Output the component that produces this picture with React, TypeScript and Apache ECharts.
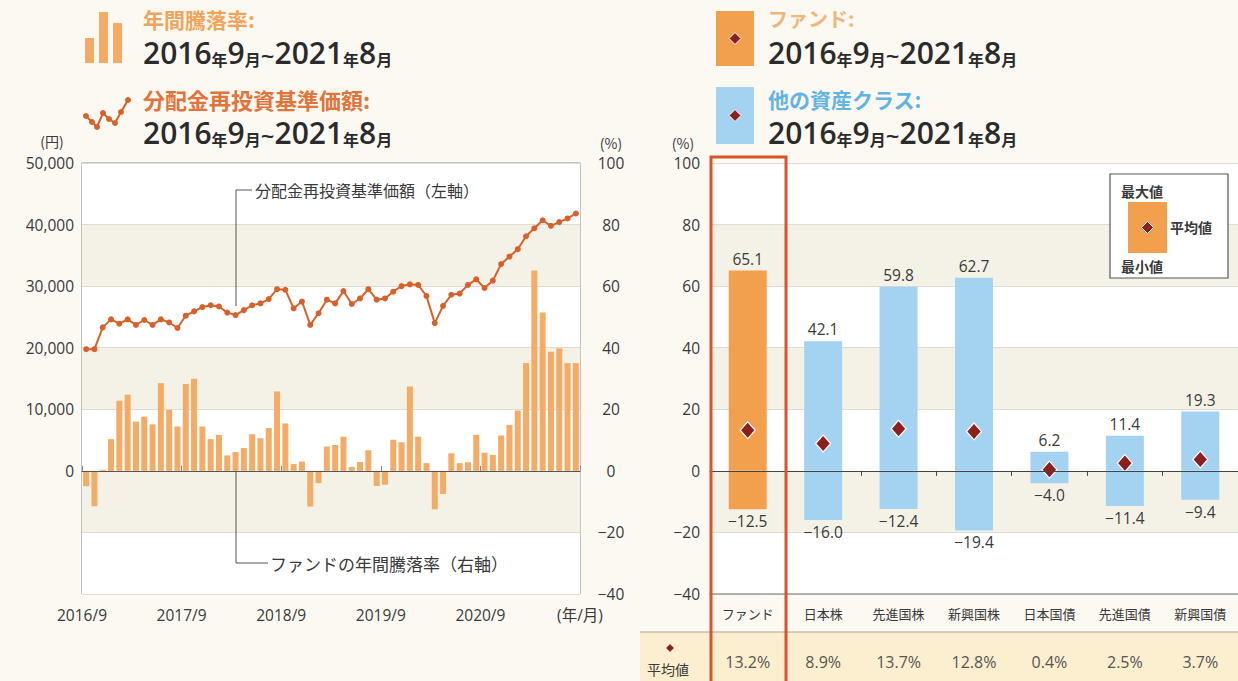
import React, { useEffect, useRef } from 'react';
import * as echarts from 'echarts';

// ---------- data ----------
const months: string[] = (() => {
  const a: string[] = [];
  for (let i = 0; i < 60; i++) {
    const m = ((8 + i) % 12) + 1;
    const y = 2016 + Math.floor((8 + i) / 12);
    a.push(`${y}/${m}`);
  }
  return a;
})();

// fund annual return (%), right axis
const annualReturns = [
  -5.0, -11.5, 0.3, 10.3, 22.8, 24.7, 16.0, 17.6, 15.1, 28.5, 19.8, 14.4,
  28.2, 29.9, 14.4, 10.3, 11.7, 5.0, 6.1, 7.4, 11.9, 10.6, 13.9, 25.8,
  15.4, 2.2, 3.0, -11.6, -4.0, 7.9, 8.4, 11.1, 1.3, 2.9, 6.7, -4.9,
  -4.5, 10.1, 9.3, 27.4, 11.1, 2.5, -12.5, -7.5, 5.7, 2.5, 2.8, 11.7,
  5.9, 5.2, 11.5, 14.9, 19.6, 35.0, 65.1, 51.4, 38.7, 39.8, 35.0, 35.0,
];

// NAV with dividends reinvested (yen), left axis
const navValues = [
  19760, 19760, 23300, 24600, 23900, 24600, 23700, 24500, 23700, 24600, 24100, 23200,
  25200, 25900, 26600, 26900, 26700, 25700, 25300, 26100, 26900, 27200, 27900, 29500,
  29400, 26400, 27500, 23700, 25600, 27800, 27200, 29200, 27100, 28000, 29500, 27800,
  28000, 29100, 30000, 30300, 30200, 28400, 24000, 26800, 28600, 28800, 30200, 31100,
  29700, 30900, 33600, 34800, 36000, 38100, 39400, 40700, 39800, 40400, 41000, 41800,
];

const xTickLabels = ['2016/9', '2017/9', '2018/9', '2019/9', '2020/9', '(年/月)'];

const assetClasses = ['ファンド', '日本株', '先進国株', '新興国株', '日本国債', '先進国債', '新興国債'];
const maxValues = [65.1, 42.1, 59.8, 62.7, 6.2, 11.4, 19.3];
const minValues = [-12.5, -16.0, -12.4, -19.4, -4.0, -11.4, -9.4];
const avgValues = [13.2, 8.9, 13.7, 12.8, 0.4, 2.5, 3.7];

// ---------- styles ----------
const LATIN = "'Open Sans', 'Noto Sans CJK JP', sans-serif";
const JP = "'Noto Sans CJK JP', sans-serif";
const BG = '#fbf9f2';
const BAND = '#f4f2e6';
const ORANGE_BAR = '#f4ab65';
const LINE_COLOR = '#d8612b';
const FUND_COLOR = '#f2a04e';
const OTHER_COLOR = '#a3d3f0';
const DIAMOND = '#8e1f1f';
const TEXT = '#3a3a3a';

const fmtMinus = (v: number, d = 0) => (v < 0 ? '−' + Math.abs(v).toFixed(d) : v.toFixed(d));

function diamond(cx: number, cy: number, r: number, z = 60) {
  return {
    type: 'polygon',
    z,
    shape: { points: [[cx, cy - r], [cx + r, cy], [cx, cy + r], [cx - r, cy]] },
    style: { fill: DIAMOND, stroke: '#ffffff', lineWidth: 1 },
  };
}

function dateText(x: number, y: number) {
  const d = { fontSize: 30, fontWeight: 600, fontFamily: "'Open Sans', sans-serif", fill: '#2b2b2b', verticalAlign: 'bottom', lineHeight: 30 };
  const k = { fontSize: 16, fontWeight: 700, fontFamily: JP, fill: '#2b2b2b', verticalAlign: 'bottom', lineHeight: 25 };
  const t = { fontSize: 24, fontWeight: 600, fontFamily: "'Open Sans', sans-serif", fill: '#2b2b2b', verticalAlign: 'bottom', lineHeight: 28 };
  return {
    type: 'text',
    x,
    y,
    z: 60,
    style: {
      text: '{d|2016}{k|年}{d|9}{k|月}{t|~}{d|2021}{k|年}{d|8}{k|月}',
      rich: { d, k, t },
      verticalAlign: 'middle',
      align: 'left',
    },
  };
}

function label(text: string, x: number, y: number, fill: string, fontSize: number, extra: any = {}) {
  return {
    type: 'text',
    x,
    y,
    z: 60,
    style: {
      text,
      fill,
      fontSize,
      fontFamily: JP,
      fontWeight: extra.fontWeight || 'normal',
      align: extra.align || 'left',
      verticalAlign: 'middle',
    },
  };
}

export default function App() {
  const ref = useRef<HTMLDivElement>(null);

  useEffect(() => {
    if (!ref.current) return;
    const chart = echarts.init(ref.current, undefined, { renderer: 'svg' });

    const iconPts = [[86, 116], [92, 122], [97, 127], [103, 113], [109, 119], [115, 123], [121, 112], [128, 100]];

    const graphics: any[] = [
      // table background row
      { type: 'rect', z: -10, shape: { x: 640, y: 632, width: 600, height: 50 }, style: { fill: '#fcefcf' } },
      { type: 'line', z: 5, shape: { x1: 640, y1: 632, x2: 1240, y2: 632 }, style: { stroke: '#aaa59a', lineWidth: 1.2 } },
      diamond(670, 648, 4.5),
      label('平均値', 668, 669, TEXT, 14, { align: 'center' }),

      // left legend: bars icon
      { type: 'rect', z: 60, shape: { x: 85, y: 38, width: 9, height: 25 }, style: { fill: ORANGE_BAR } },
      { type: 'rect', z: 60, shape: { x: 99, y: 12, width: 9, height: 51 }, style: { fill: ORANGE_BAR } },
      { type: 'rect', z: 60, shape: { x: 113, y: 23, width: 9, height: 40 }, style: { fill: ORANGE_BAR } },
      label('年間騰落率:', 143, 18.5, '#f0a45c', 21, { fontWeight: 'bold' }),
      dateText(143, 52),

      // left legend: line icon
      {
        type: 'polyline', z: 60,
        shape: { points: iconPts },
        style: { stroke: LINE_COLOR, lineWidth: 2, fill: 'none' },
      },
      ...iconPts.map((p) => ({
        type: 'circle', z: 61, shape: { cx: p[0], cy: p[1], r: 3 }, style: { fill: LINE_COLOR },
      })),
      label('分配金再投資基準価額:', 143, 98.5, '#e0743a', 22, { fontWeight: 'bold' }),
      dateText(143, 132),

      // right legends
      { type: 'rect', z: 60, shape: { x: 716, y: 11, width: 38, height: 55 }, style: { fill: FUND_COLOR } },
      diamond(735, 38.5, 6),
      label('ファンド:', 768, 18.5, '#f2b47c', 20, { fontWeight: 'bold' }),
      dateText(768, 52),
      { type: 'rect', z: 60, shape: { x: 716, y: 87, width: 38, height: 57 }, style: { fill: OTHER_COLOR } },
      diamond(735, 115.5, 6),
      label('他の資産クラス:', 768, 98.5, '#62b4e4', 21, { fontWeight: 'bold' }),
      dateText(768, 132),

      // units
      label('(円)', 52, 141, TEXT, 14, { align: 'center' }),
      label('(%)', 611, 143, TEXT, 14, { align: 'center' }),
      label('(%)', 683, 143, TEXT, 14, { align: 'center' }),

      // annotations in left chart
      { type: 'polyline', z: 40, shape: { points: [[252, 190], [236, 190], [236, 306]] }, style: { stroke: '#555', lineWidth: 1, fill: 'none' } },
      label('分配金再投資基準価額（左軸）', 255, 190, TEXT, 16),
      { type: 'polyline', z: 40, shape: { points: [[236, 472], [236, 563], [268, 563]] }, style: { stroke: '#555', lineWidth: 1, fill: 'none' } },
      label('ファンドの年間騰落率（右軸）', 270, 563, TEXT, 17),

      // legend box in right chart
      { type: 'rect', z: 50, shape: { x: 1110, y: 174, width: 118, height: 104 }, style: { fill: '#ffffff', stroke: '#555', lineWidth: 1.2 } },
      label('最大値', 1121, 191, TEXT, 14, { fontWeight: 'bold' }),
      { type: 'rect', z: 55, shape: { x: 1128, y: 202, width: 39, height: 51 }, style: { fill: FUND_COLOR } },
      diamond(1147.5, 227.5, 6, 56),
      label('平均値', 1170, 227, TEXT, 14, { fontWeight: 'bold' }),
      label('最小値', 1121, 266, TEXT, 14, { fontWeight: 'bold' }),

      // red highlight frame around fund column
      { type: 'rect', z: 100, shape: { x: 711, y: 157, width: 75, height: 540 }, style: { fill: 'none', stroke: '#d9532b', lineWidth: 3 } },
    ];

    const axisLabelStyle = { color: TEXT, fontSize: 15.5, fontFamily: LATIN };

    const option: any = {
      animation: false,
      backgroundColor: BG,
      grid: [
        { left: 82, top: 163, width: 498, height: 431, show: true, borderColor: '#8d8d8d', borderWidth: 1, backgroundColor: 'transparent' },
        { left: 710, top: 163, width: 530, height: 431, show: false },
      ],
      xAxis: [
        {
          // months (zero line)
          gridIndex: 0, type: 'category', data: months, boundaryGap: true, z: 10,
          axisLine: { show: true, onZero: true, onZeroAxisIndex: 1, lineStyle: { color: '#555', width: 1.2 } },
          axisTick: { show: false }, axisLabel: { show: false }, splitLine: { show: false },
        },
        {
          gridIndex: 0, type: 'value', min: 0, max: 60, interval: 12, position: 'bottom',
          axisLine: { show: false },
          axisTick: { show: true, inside: true, length: 5, lineStyle: { color: '#888' } },
          axisLabel: { ...axisLabelStyle, margin: 13, showMinLabel: true, showMaxLabel: true, formatter: (v: number) => xTickLabels[Math.round(v / 12)] },
          splitLine: { show: false },
        },
        {
          gridIndex: 1, type: 'category', data: assetClasses, position: 'bottom',
          axisLine: { show: true, onZero: false, lineStyle: { color: '#9c9c9c', width: 1.5 } },
          axisTick: { show: false },
          axisLabel: { color: TEXT, fontSize: 13, fontFamily: JP, margin: 13 },
        },
        {
          gridIndex: 1, type: 'category', data: assetClasses, z: 10,
          axisLine: { show: true, onZero: true, lineStyle: { color: '#444', width: 1.2 } },
          axisTick: { show: true, inside: true, length: 5, lineStyle: { color: '#444' } },
          axisLabel: { show: false },
        },
        {
          gridIndex: 1, type: 'category', data: avgValues.map((v) => v.toFixed(1) + '%'), position: 'bottom', offset: 47,
          axisLine: { show: false }, axisTick: { show: false },
          axisLabel: { color: '#555', fontSize: 16, fontFamily: LATIN, margin: 13 },
        },
      ],
      yAxis: [
        {
          gridIndex: 0, type: 'value', position: 'left', min: -20000, max: 50000, interval: 10000,
          axisLine: { show: false }, axisTick: { show: false }, splitLine: { show: false },
          axisLabel: { ...axisLabelStyle, margin: 8, formatter: (v: number) => (v < 0 ? '' : v.toLocaleString('en-US')) },
        },
        {
          gridIndex: 0, type: 'value', position: 'right', min: -40, max: 100, interval: 20,
          axisLine: { show: false }, axisTick: { show: false },
          splitLine: { show: true, lineStyle: { color: '#dedbd2' } },
          splitArea: { show: true, areaStyle: { color: ['#ffffff', BAND] } },
          axisLabel: { ...axisLabelStyle, margin: 31, align: 'center', formatter: (v: number) => fmtMinus(v) },
        },
        {
          gridIndex: 1, type: 'value', position: 'left', min: -40, max: 100, interval: 20,
          axisLine: { show: false }, axisTick: { show: false },
          splitLine: { show: true, lineStyle: { color: '#dedbd2' } },
          splitArea: { show: true, areaStyle: { color: ['#ffffff', BAND] } },
          axisLabel: { ...axisLabelStyle, margin: 10, formatter: (v: number) => fmtMinus(v) },
        },
      ],
      series: [
        {
          type: 'bar', name: '年間騰落率', xAxisIndex: 0, yAxisIndex: 1, data: annualReturns,
          barWidth: 6, itemStyle: { color: ORANGE_BAR },
        },
        {
          type: 'line', name: '分配金再投資基準価額', xAxisIndex: 0, yAxisIndex: 0, data: navValues,
          symbol: 'circle', symbolSize: 6, showSymbol: true, showAllSymbol: true, z: 5,
          lineStyle: { color: LINE_COLOR, width: 2 }, itemStyle: { color: LINE_COLOR },
        },
        {
          type: 'bar', name: '最大値', xAxisIndex: 2, yAxisIndex: 2, barWidth: 38, barGap: '-100%',
          data: maxValues.map((v, i) => ({ value: v, itemStyle: { color: i === 0 ? FUND_COLOR : OTHER_COLOR } })),
          label: { show: true, position: 'top', distance: 4, color: TEXT, fontSize: 15.5, fontFamily: LATIN, formatter: (p: any) => fmtMinus(p.value, 1) },
        },
        {
          type: 'bar', name: '最小値', xAxisIndex: 2, yAxisIndex: 2, barWidth: 38, barGap: '-100%',
          data: minValues.map((v, i) => ({ value: v, itemStyle: { color: i === 0 ? FUND_COLOR : OTHER_COLOR } })),
          label: { show: true, position: 'bottom', distance: 4, color: TEXT, fontSize: 15.5, fontFamily: LATIN, formatter: (p: any) => fmtMinus(p.value, 1) },
        },
        {
          type: 'scatter', name: '平均値', xAxisIndex: 2, yAxisIndex: 2, data: avgValues,
          symbol: 'diamond', symbolSize: [15, 17], z: 6,
          itemStyle: { color: DIAMOND, borderColor: '#ffffff', borderWidth: 1.2, opacity: 1 },
        },
      ],
      graphic: graphics,
    };

    chart.setOption(option);
    return () => chart.dispose();
  }, []);

  return (
    <div
      ref={ref}
      style={{ position: 'fixed', left: 0, top: 0, width: 1238, height: 681, background: BG }}
    />
  );
}
